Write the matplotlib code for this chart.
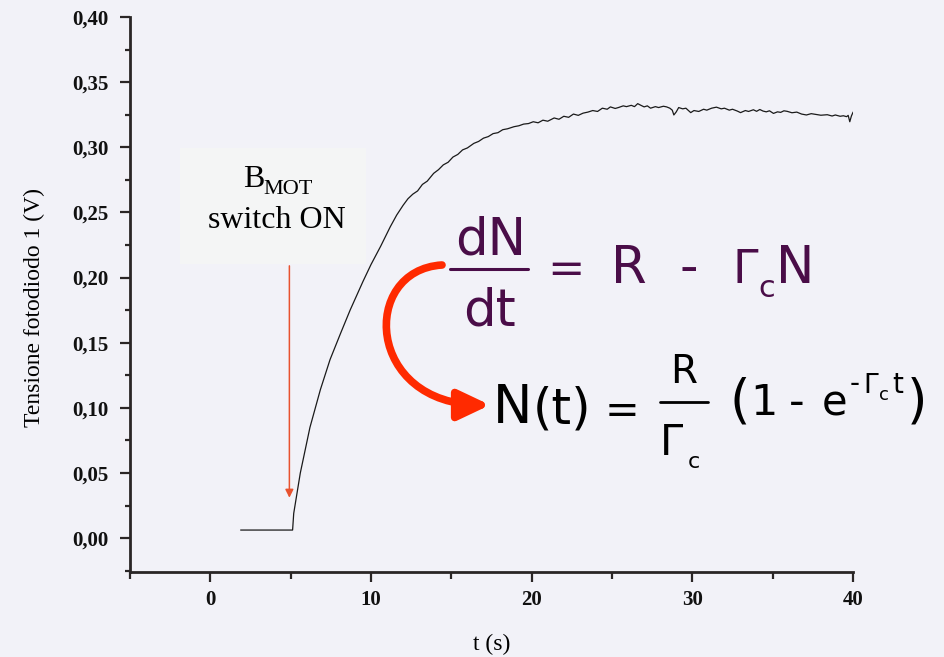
import matplotlib
matplotlib.use('Agg')
import matplotlib.pyplot as plt
from matplotlib.patches import FancyArrowPatch, Rectangle
from matplotlib.path import Path
from matplotlib.lines import Line2D
from matplotlib.ticker import MultipleLocator, FuncFormatter

# photodiode 1 signal: baseline, loading of the MOT, steady state
t_rise = [1.9, 5.12, 5.19, 5.6, 6.2, 6.85, 7.45, 8.1, 8.7, 9.5, 10.0, 10.6,
          11.2, 11.6, 12.0, 12.3, 12.6, 12.9, 13.2, 13.5, 13.9, 14.2, 14.5,
          14.8, 15.1, 15.4, 15.7, 16.0, 16.4, 16.7, 17.0, 17.3, 17.6, 17.9,
          18.2, 18.5, 18.9, 19.2, 19.5, 19.8]
v_rise = [0.0062, 0.0062, 0.019, 0.050, 0.085, 0.114, 0.137, 0.157, 0.175,
          0.197, 0.210, 0.224, 0.239, 0.248, 0.2555, 0.2605, 0.264, 0.2665,
          0.2715, 0.274, 0.280, 0.2828, 0.2865, 0.2885, 0.2925, 0.2945,
          0.298, 0.2995, 0.303, 0.3045, 0.307, 0.3082, 0.3105, 0.3112,
          0.3135, 0.3142, 0.3158, 0.3165, 0.3178, 0.3182]
t_plateau = [20.1, 20.4, 20.7, 21.0, 21.4, 21.7, 22.0, 22.3, 22.6, 22.9, 23.2,
             23.5, 23.8, 24.1, 24.4, 24.7, 24.9, 25.2, 25.4, 25.7, 25.9, 26.2,
             26.4, 26.6, 26.8, 27.0, 27.2, 27.4, 27.7, 27.9, 28.2, 28.4, 28.6,
             28.75, 28.85, 29.0, 29.15, 29.4, 29.6, 29.9, 30.1, 30.4, 30.7,
             30.9, 31.2, 31.5, 31.8, 32.0, 32.3, 32.5, 32.8, 33.0, 33.3, 33.5,
             33.8, 34.0, 34.2, 34.4, 34.6, 34.8, 35.05, 35.3, 35.5, 35.7, 35.9,
             36.2, 36.5, 36.8, 37.1, 37.4, 37.7, 38.0, 38.4, 38.7, 38.9, 39.2,
             39.4, 39.6, 39.7, 39.8, 39.9, 40.0]
v_plateau = [0.3196, 0.3188, 0.3208, 0.3200, 0.3225, 0.3215, 0.3238, 0.3230,
             0.3255, 0.3245, 0.3262, 0.3270, 0.3282, 0.3275, 0.3300, 0.3292,
             0.3310, 0.3298, 0.3305, 0.3318, 0.3312, 0.3322, 0.3312, 0.3335,
             0.3322, 0.3310, 0.3318, 0.3300, 0.3312, 0.3305, 0.3315, 0.3310,
             0.3300, 0.3285, 0.3248, 0.3272, 0.3305, 0.3295, 0.3300, 0.3266,
             0.3282, 0.3275, 0.3292, 0.3285, 0.3300, 0.3308, 0.3295, 0.3300,
             0.3285, 0.3292, 0.3278, 0.3266, 0.3282, 0.3275, 0.3288, 0.3276,
             0.3290, 0.3278, 0.3272, 0.3280, 0.3260, 0.3272, 0.3268, 0.3280,
             0.3276, 0.3265, 0.3270, 0.3255, 0.3248, 0.3258, 0.3252, 0.3246,
             0.3250, 0.3240, 0.3248, 0.3238, 0.3242, 0.3235, 0.3245, 0.3196,
             0.3240, 0.3268]

x_major = [0, 10, 20, 30, 40]
y_major = [0.00, 0.05, 0.10, 0.15, 0.20, 0.25, 0.30, 0.35, 0.40]

bg = '#F2F2F8'
axis_col = '#2A2626'
purple = '#4A0D48'
W, H = 945, 657

fig = plt.figure(figsize=(W / 100, H / 100), dpi=100, facecolor=bg)
ax = fig.add_axes([130 / W, 1 - 572 / H, 723 / W, 555 / H])
ax.set_facecolor(bg)

ax.plot(t_rise + t_plateau, v_rise + v_plateau, color='#1A1A1A', lw=0.9)

ax.set_xlim(-5, 40)
ax.set_ylim(-0.026, 0.40)
ax.set_xticks(x_major)
ax.set_yticks(y_major)
ax.xaxis.set_minor_locator(MultipleLocator(5))
ax.yaxis.set_minor_locator(MultipleLocator(0.025))
ax.yaxis.set_major_formatter(FuncFormatter(lambda v, p: f'{v:.2f}'.replace('.', ',')))

for s in ['top', 'right']:
    ax.spines[s].set_visible(False)
for s in ['left', 'bottom']:
    ax.spines[s].set_linewidth(2)
    ax.spines[s].set_color(axis_col)

ax.tick_params(which='major', direction='out', length=7.2, width=1.6, color=axis_col, pad=6)
ax.tick_params(axis='y', which='major', pad=8)
ax.tick_params(axis='x', which='minor', direction='out', length=5, width=1.6, color=axis_col)
ax.tick_params(axis='y', which='minor', direction='out', length=3.5, width=1.6, color=axis_col)
for lab in ax.get_xticklabels() + ax.get_yticklabels():
    lab.set_fontfamily('Liberation Serif')
    lab.set_fontweight('bold')
    lab.set_fontsize(15)
    lab.set_color('#111111')

ax.set_ylabel('Tensione fotodiodo 1 (V)', family='Liberation Serif', fontsize=17)
ax.yaxis.set_label_coords(-0.118, 0.476)
ax.set_xlabel('t (s)', family='Liberation Serif', fontsize=17)
ax.xaxis.set_label_coords(0.5, -0.112)

# switch-on marker
ax.annotate('', xy=(4.92, 0.031), xytext=(4.92, 0.209),
            arrowprops=dict(arrowstyle='-|>', color='#E8522F', lw=1.1,
                            mutation_scale=12, shrinkA=0, shrinkB=0))


def put(s, x, y, size, color='black', family='DejaVu Sans', ha='center'):
    fig.text(x / W, 1 - y / H, s, fontsize=size, color=color,
             family=family, ha=ha, va='baseline')


def bar(x0, x1, y, color, lw):
    fig.add_artist(Line2D([x0 / W, x1 / W], [1 - y / H, 1 - y / H],
                          transform=fig.transFigure, color=color, lw=lw,
                          solid_capstyle='round'))


# label box
fig.add_artist(Rectangle((180 / W, 1 - 264 / H), 186 / W, 116 / H,
                         transform=fig.transFigure, facecolor='#F4F5F5',
                         edgecolor='none'))
put('B', 243, 187, 23, family='Liberation Serif', ha='left')
put('MOT', 263, 194, 16, family='Liberation Serif', ha='left')
put('switch ON', 276.5, 228, 23, family='Liberation Serif')

# rate equation
put('dN', 491, 255, 37, purple)
bar(450, 528, 269, purple, 2.2)
put('dt', 490, 325, 37, purple)
put('=', 566, 283, 32, purple)
put('R', 629, 283, 37, purple)
put('-', 689, 283, 37, purple)
put('Γ', 745, 283, 33, purple)
put('c', 767, 297, 22, purple)
put('N', 795, 283, 37, purple)

# its solution
put('N', 513, 423, 38)
put('(t)', 562, 423, 36)
put('=', 622, 423, 30)
put('R', 684, 383, 28)
bar(660, 708, 402, 'black', 2.0)
put('Γ', 672, 455, 30)
put('c', 694, 468, 16)
put('(', 750, 418, 38, ha='right')
put('1', 750, 415, 31, ha='left')
put('-', 797, 415, 31)
put('e', 835, 416, 30)
put('-', 855, 392, 20)
put('Γ', 871, 393, 19)
put('c', 884, 400, 13)
put('t', 898, 393, 20)
put(')', 917, 418, 38)

# curved arrow from the equation to its solution
pts = [(442, 265), (360, 270), (365, 405), (490, 405)]
verts = [(x / W, 1 - y / H) for x, y in pts]
curve = Path(verts, [Path.MOVETO, Path.CURVE4, Path.CURVE4, Path.CURVE4])
fig.add_artist(FancyArrowPatch(path=curve, transform=fig.transFigure,
                               arrowstyle='-|>,head_length=19,head_width=9',
                               mutation_scale=1, color='#FF2A00', lw=5.5))

fig.savefig('out.png', dpi=100, facecolor=bg)
